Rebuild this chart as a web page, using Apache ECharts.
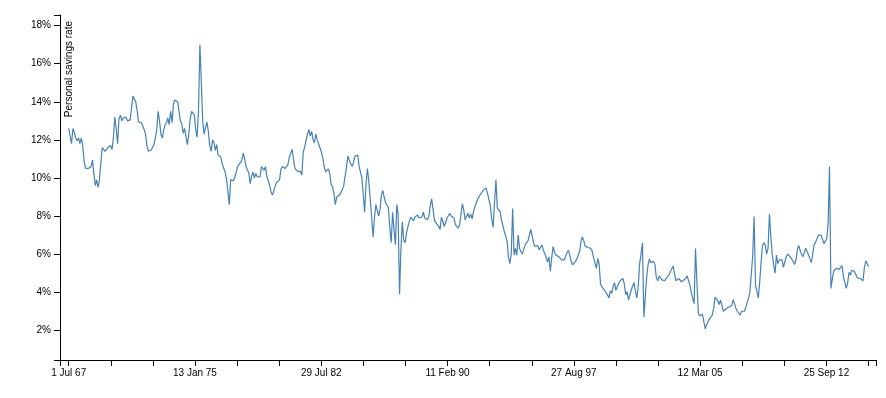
<!DOCTYPE html>
<html>
<head>
<meta charset="utf-8">
<title>Personal savings rate</title>
<script src="https://cdn.jsdelivr.net/npm/echarts@6/dist/echarts.min.js"></script>
<style>
  html, body { margin: 0; padding: 0; background: #fff; }
  #chart { width: 886px; height: 398px; }
</style>
</head>
<body>
<div id="chart"></div>
<script>
// monthly personal savings rate (%), first value is Jul 1967, one row = 12 months
var startYear = 1967, startMonth = 6;
var savingsRate = [
  12.6, 12.2, 11.8, 12.6, 12.4, 12.1, 11.95, 12.1, 11.8, 12.1, 11.7, 10.9,
  10.5, 10.4, 10.5, 10.55, 10.6, 10.95, 10.2, 9.6, 9.9, 9.5, 9.9, 10.8,
  11.6, 11.5, 11.4, 11.45, 11.6, 11.65, 11.7, 11.5, 12.1, 13.2, 12.6, 11.8,
  13.1, 13.3, 13.0, 13.15, 13.1, 13.2, 13.0, 13.05, 13.05, 13.15, 14.3, 14.2,
  14.0, 13.55, 12.95, 12.93, 12.9, 12.75, 12.55, 12.3, 11.7, 11.4, 11.42, 11.47,
  11.5, 11.75, 12.1, 12.5, 13.5, 13.0, 12.3, 12.1, 12.5, 12.78, 12.9, 13.15,
  12.8, 13.5, 12.9, 13.9, 14.1, 14.2, 14.0, 13.9, 13.0, 12.85, 12.35, 12.6,
  12.5, 11.75, 12.3, 13.1, 13.5, 13.6, 13.3, 12.5, 12.15, 13.6, 17.0, 15.0,
  13.0, 12.3, 12.65, 12.95, 12.45, 11.7, 11.4, 12.0, 11.85, 11.45, 11.75, 11.2,
  11.2, 11.1, 10.72, 10.8, 10.3, 9.95, 9.85, 8.6, 9.9, 9.85, 9.85, 10.05,
  10.3, 10.62, 10.72, 10.8, 10.95, 11.3, 11.0, 10.6, 10.42, 10.27, 9.7, 10.1,
  10.3, 10.0, 10.24, 10.07, 10.12, 10.05, 10.6, 10.65, 10.4, 10.6, 10.05, 9.85,
  9.6, 9.25, 9.1, 9.35, 9.6, 9.78, 9.74, 9.9, 10.45, 10.6, 10.5, 10.5,
  10.6, 10.7, 11.1, 11.0, 11.5, 11.0, 10.5, 10.4, 10.35, 10.35, 10.35, 10.15,
  11.35, 11.62, 11.6, 12.3, 12.55, 12.2, 12.45, 12.0, 11.85, 12.3, 12.0, 11.8,
  11.75, 11.35, 11.05, 10.6, 10.32, 10.35, 10.48, 10.2, 9.65, 9.54, 9.2, 8.6,
  9.0, 8.95, 9.1, 9.12, 9.4, 9.6, 9.5, 10.6, 11.15, 10.95, 10.75, 10.6,
  10.8, 11.15, 11.2, 11.2, 10.6, 10.6, 10.0, 9.05, 8.2, 9.7, 10.5, 9.8,
  8.9, 7.95, 6.9, 7.9, 8.6, 8.3, 8.0, 8.35, 9.1, 9.35, 9.0, 8.7,
  8.76, 8.45, 7.4, 6.6, 8.2, 7.3, 6.5, 8.6, 8.1, 3.9, 6.2, 7.7,
  6.75, 6.6, 7.1, 7.45, 7.72, 7.95, 7.85, 7.75, 7.95, 7.9, 8.05, 7.9,
  7.85, 7.95, 8.2, 7.9, 7.95, 7.8, 8.0, 8.55, 8.9, 8.35, 7.8, 7.65,
  7.7, 7.45, 7.3, 7.95, 7.9, 7.45, 7.35, 7.9, 7.95, 8.15, 8.0, 8.05,
  7.9, 7.55, 7.45, 7.36, 7.55, 8.1, 8.65, 8.3, 7.8, 7.75, 8.15, 7.9,
  8.1, 7.85, 8.25, 8.5, 8.52, 8.9, 8.95, 9.15, 9.2, 9.35, 9.42, 9.48,
  9.19, 9.15, 8.55, 7.85, 7.4, 8.7, 9.9, 8.41, 8.38, 8.25, 7.8, 7.5,
  7.2, 7.1, 6.7, 5.85, 5.5, 6.0, 8.4, 5.95, 6.3, 5.95, 7.0, 6.3,
  6.4, 6.0, 6.1, 6.5, 6.5, 6.7, 7.0, 7.3, 7.2, 6.6, 6.4, 6.3,
  6.45, 6.23, 6.25, 6.48, 6.2, 6.05, 6.1, 5.6, 5.85, 5.1, 5.8, 6.4,
  6.1, 5.96, 5.96, 5.87, 5.77, 5.7, 5.6, 5.7, 5.9, 6.08, 6.2, 5.95,
  5.6, 5.43, 5.48, 5.62, 5.75, 5.85, 6.15, 6.7, 6.9, 6.7, 6.42, 6.35,
  6.35, 6.3, 6.3, 6.15, 5.8, 5.7, 5.26, 5.78, 5.5, 4.45, 4.28, 4.2,
  4.1, 4.0, 3.85, 3.7, 4.07, 3.95, 4.3, 4.5, 4.1, 4.3, 4.25, 4.6,
  4.62, 4.72, 4.42, 3.87, 4.03, 3.6, 3.85, 4.13, 4.33, 4.5, 4.05, 3.7,
  4.3, 5.5, 6.0, 6.6, 2.7, 3.7, 4.8, 5.45, 5.75, 5.55, 5.48, 5.62,
  5.45, 4.75, 4.6, 4.85, 4.77, 4.65, 4.55, 4.6, 4.73, 4.65, 4.9, 5.07,
  5.05, 5.38, 5.3, 4.6, 4.7, 4.72, 4.7, 4.55, 4.55, 4.65, 4.62, 4.85,
  4.75, 4.38, 3.95, 3.93, 3.4, 6.3, 4.5, 2.9, 2.75, 2.68, 2.85, 2.45,
  2.08, 2.3, 2.37, 2.6, 2.7, 2.8, 3.15, 3.75, 3.85, 3.55, 3.35, 3.59,
  3.3, 3.0, 3.1, 3.13, 3.2, 3.22, 3.15, 3.3, 3.6, 3.4, 3.15, 3.0,
  2.9, 2.8, 3.0, 3.1, 3.0, 3.2, 3.3, 3.7, 4.0, 4.1, 5.9, 7.97,
  4.4, 4.05, 3.7, 4.55, 5.6, 6.45, 6.6, 6.45, 6.0, 6.3, 8.1, 6.9,
  6.0, 5.45, 5.0, 5.95, 5.5, 5.7, 5.7, 5.7, 5.3, 5.2, 5.85, 6.0,
  5.92, 5.85, 5.75, 5.62, 5.45, 5.7, 6.25, 6.45, 6.2, 5.98, 5.87, 6.1,
  6.31, 6.3, 5.95, 5.75, 5.55, 6.0, 6.5, 6.62, 6.8, 7.0, 7.08, 7.0,
  7.1, 6.55, 6.5, 6.8, 7.6, 10.6, 4.2, 4.7, 5.1, 5.1, 5.25, 5.32,
  5.2, 5.2, 5.4, 4.8, 4.5, 4.2, 4.5, 5.05, 4.9, 5.15, 5.17, 5.08,
  5.15, 4.75, 4.65, 4.72, 4.65, 4.6, 5.3, 5.65, 5.75, 5.35
];

// labelled dates on the x axis (two unlabelled ticks between each pair)
var xLabelDates = ['1967-07-01', '1975-01-13', '1982-07-29', '1990-02-11',
                   '1997-08-27', '2005-03-12', '2012-09-25'];
var yLabels = [2, 4, 6, 8, 10, 12, 14, 16, 18];

var DAY = 864e5;
var monthNames = ['Jan', 'Feb', 'Mar', 'Apr', 'May', 'Jun', 'Jul', 'Aug', 'Sep', 'Oct', 'Nov', 'Dec'];

var seriesData = savingsRate.map(function (v, i) {
    return [Date.UTC(startYear, startMonth + i, 1), v];
});

var labelVals = xLabelDates.map(function (s) { return Date.parse(s + 'T00:00:00Z'); });
var step = (labelVals[labelVals.length - 1] - labelVals[0]) / ((labelVals.length - 1) * 3);
var t0 = labelVals[0];
var xMin = t0 - 189.7 * DAY;
var xMax = t0 + 17604 * DAY;
var yMin = 0.44, yMax = 18.56;

var tickVals = [xMin];
for (var k = 0; t0 + k * step <= xMax; k++) tickVals.push(t0 + k * step);
tickVals.push(xMax);

var myChart = echarts.init(document.getElementById('chart'));

var font = 'Liberation Sans';
var option = {
    animation: false,
    grid: { left: 60, right: 10, top: 15, bottom: 38 },
    xAxis: {
        type: 'value',
        min: xMin,
        max: xMax,
        splitLine: { show: false },
        axisLine: { onZero: false, lineStyle: { color: '#000', width: 1 } },
        axisTick: { length: 6, lineStyle: { color: '#000' }, customValues: tickVals },
        axisLabel: {
            customValues: labelVals,
            margin: 8,
            color: '#000',
            fontFamily: font,
            fontSize: 10,
            formatter: function (v) {
                var d = new Date(v);
                return d.getUTCDate() + ' ' + monthNames[d.getUTCMonth()] + ' ' +
                    String(d.getUTCFullYear()).slice(2);
            }
        }
    },
    yAxis: {
        type: 'value',
        min: yMin,
        max: yMax,
        splitLine: { show: false },
        axisLine: { show: true, onZero: false, lineStyle: { color: '#000', width: 1 } },
        axisTick: { show: true, length: 6, lineStyle: { color: '#000' },
                    customValues: [yMin].concat(yLabels, [yMax]) },
        axisLabel: {
            customValues: yLabels,
            margin: 9,
            color: '#000',
            fontFamily: font,
            fontSize: 10,
            formatter: '{value}%'
        }
    },
    graphic: [{
        type: 'text',
        x: 69,
        y: 21,
        rotation: Math.PI / 2,
        style: {
            text: 'Personal savings rate',
            fill: '#000',
            font: '10px "Liberation Sans"',
            align: 'right',
            verticalAlign: 'middle'
        }
    }],
    series: [{
        type: 'line',
        data: seriesData,
        showSymbol: false,
        symbol: 'none',
        lineStyle: { color: '#4682b4', width: 1.2 }
    }]
};

myChart.setOption(option);
</script>
</body>
</html>
